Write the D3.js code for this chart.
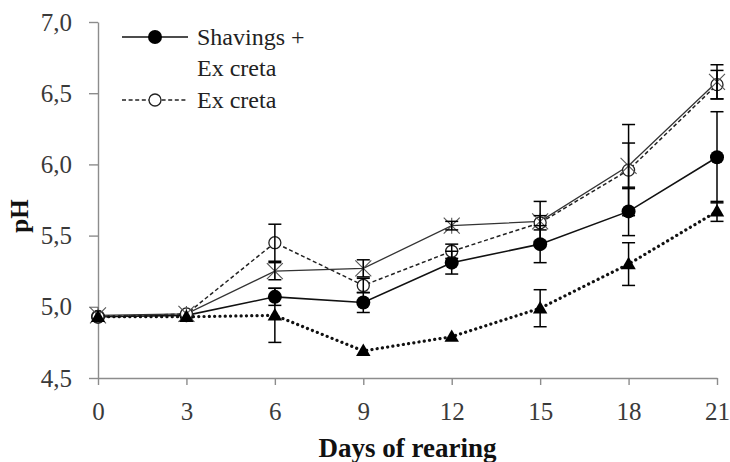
<!DOCTYPE html>
<html>
<head>
<meta charset="utf-8">
<script src="https://cdn.jsdelivr.net/npm/d3@7"></script>
<style>
  html, body { margin: 0; padding: 0; background: #fff; }
  svg { display: block; }
  .serif { font-family: "Liberation Serif", "Times New Roman", Tinos, serif; }
</style>
</head>
<body>
<svg id="chart" width="730" height="462"></svg>
<script>
// Sampling days
const days = [0, 3, 6, 9, 12, 15, 18, 21];

// Mean pH per series
const shavingsExcreta = [4.93, 4.94, 5.07, 5.03, 5.31, 5.44, 5.67, 6.05];
const excreta         = [4.93, 4.95, 5.45, 5.15, 5.39, 5.59, 5.96, 6.56];
const starSeries      = [4.94, 4.95, 5.25, 5.27, 5.57, 5.60, 5.99, 6.58];
const triangleSeries  = [4.93, 4.93, 4.94, 4.69, 4.79, 4.99, 5.30, 5.67];

// Standard deviations
const shavingsExcretaErr = [0.02, 0.02, 0.06, 0.07, 0.08, 0.13, 0.17, 0.32];
const excretaErr         = [0.02, 0.02, 0.13, 0.05, 0.05, 0.05, 0.32, 0.10];
const starSeriesErr      = [0.02, 0.02, 0.06, 0.06, 0.03, 0.14, 0.16, 0.12];
const triangleSeriesErr  = [0.02, 0.02, 0.19, 0.02, 0.02, 0.13, 0.15, 0.07];

// Axis ticks
const yTicks = [4.5, 5.0, 5.5, 6.0, 6.5, 7.0];
const xTicks = [0, 3, 6, 9, 12, 15, 18, 21];

const legendLabels = [["Shavings +", "Ex creta"], ["Ex creta"]];

const svg = d3.select("#chart");
const x = d3.scaleLinear().domain([0, 21]).range([98, 717]);
const y = d3.scaleLinear().domain([4.5, 7.0]).range([378, 22]);

const axisColor = "#8c8c8c";

// Y axis
const yAxis = svg.append("g")
  .attr("transform", `translate(${x(0)},0)`)
  .call(d3.axisLeft(y).tickValues(yTicks).tickSize(9).tickSizeOuter(0).tickPadding(17)
    .tickFormat(d => d.toFixed(1).replace(".", ",")));
// X axis
const xAxis = svg.append("g")
  .attr("transform", `translate(0,${y(4.5)})`)
  .call(d3.axisBottom(x).tickValues(xTicks).tickSize(7).tickSizeOuter(0).tickPadding(17));

[yAxis, xAxis].forEach(g => {
  g.attr("font-family", null).attr("font-size", null);
  g.select(".domain").attr("stroke", axisColor).attr("stroke-width", 1.4);
  g.selectAll(".tick line").attr("stroke", axisColor).attr("stroke-width", 1.4);
  g.selectAll(".tick text").attr("fill", "#3a3a3a")
    .attr("class", "serif").style("font-size", "25px");
});

// Axis titles
svg.append("text")
  .attr("class", "serif")
  .attr("transform", "translate(28,216) rotate(-90)")
  .attr("text-anchor", "middle")
  .style("font-size", "25px").style("font-weight", "bold")
  .attr("fill", "#111")
  .text("pH");
svg.append("text")
  .attr("class", "serif")
  .attr("x", (x(0) + x(21)) / 2).attr("y", 457)
  .attr("text-anchor", "middle")
  .style("font-size", "27px").style("font-weight", "bold")
  .attr("fill", "#111")
  .text("Days of rearing");

const series = [
  { values: shavingsExcreta, err: shavingsExcretaErr, dash: null, width: 1.6, color: "#111", marker: "filledCircle" },
  { values: excreta, err: excretaErr, dash: "4,2.6", width: 1.5, color: "#222", marker: "openCircle" },
  { values: starSeries, err: starSeriesErr, dash: null, width: 1.3, color: "#333", marker: "star" },
  { values: triangleSeries, err: triangleSeriesErr, dash: "0.1,5.2", width: 3.2, color: "#111", marker: "triangle", cap: "round" }
];

const line = d3.line().x((d, i) => x(days[i])).y(d => y(d));

// Lines
series.forEach(s => {
  svg.append("path")
    .datum(s.values)
    .attr("d", line)
    .attr("fill", "none")
    .attr("stroke", s.color)
    .attr("stroke-width", s.width)
    .attr("stroke-dasharray", s.dash)
    .attr("stroke-linecap", s.cap || "butt");
});

function drawMarker(g, type, cx, cy) {
  if (type === "filledCircle") {
    g.append("circle").attr("cx", cx).attr("cy", cy).attr("r", 7).attr("fill", "#000");
  } else if (type === "openCircle") {
    g.append("circle").attr("cx", cx).attr("cy", cy).attr("r", 6)
      .attr("fill", "#fff").attr("stroke", "#222").attr("stroke-width", 1.3);
  } else if (type === "star") {
    const h = 8;
    g.append("path")
      .attr("d", `M${cx - h},${cy - h}L${cx + h},${cy + h}M${cx - h},${cy + h}L${cx + h},${cy - h}M${cx},${cy - h}L${cx},${cy + h}`)
      .attr("stroke", "#555").attr("stroke-width", 1.1).attr("fill", "none");
  } else if (type === "triangle") {
    g.append("path")
      .attr("transform", `translate(${cx},${cy + 1})`)
      .attr("d", d3.symbol(d3.symbolTriangle, 90)())
      .attr("fill", "#000");
  }
}

// Markers
series.forEach(s => {
  const g = svg.append("g");
  s.values.forEach((v, i) => drawMarker(g, s.marker, x(days[i]), y(v)));
});

// Error bars
const capHalf = 6.5;
series.forEach(s => {
  const g = svg.append("g").attr("stroke", "#000").attr("stroke-width", 1.5);
  s.values.forEach((v, i) => {
    const e = s.err[i];
    if (e <= 0.025) return;
    const cx = x(days[i]);
    const y1 = y(v + e), y0 = y(v - e);
    g.append("line").attr("x1", cx).attr("x2", cx).attr("y1", y1).attr("y2", y0);
    g.append("line").attr("x1", cx - capHalf).attr("x2", cx + capHalf).attr("y1", y1).attr("y2", y1);
    g.append("line").attr("x1", cx - capHalf).attr("x2", cx + capHalf).attr("y1", y0).attr("y2", y0);
  });
});

// Legend
const legend = svg.append("g");
const legendRows = [
  { y: 37, s: series[0], labels: legendLabels[0] },
  { y: 100, s: series[1], labels: legendLabels[1] }
];
legendRows.forEach(r => {
  legend.append("line")
    .attr("x1", 122).attr("x2", 188).attr("y1", r.y).attr("y2", r.y)
    .attr("stroke", r.s.color).attr("stroke-width", r.s.width)
    .attr("stroke-dasharray", r.s.dash);
  drawMarker(legend, r.s.marker, 155, r.y);
  r.labels.forEach((t, k) => {
    legend.append("text")
      .attr("class", "serif")
      .attr("x", 197).attr("y", r.y + 8 + k * 31)
      .style("font-size", "24px")
      .attr("fill", "#222")
      .text(t);
  });
});
</script>
</body>
</html>
